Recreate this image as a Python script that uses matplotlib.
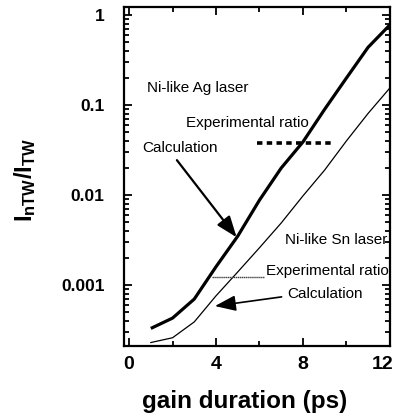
import numpy as np
import matplotlib
matplotlib.use("Agg")
import matplotlib.pyplot as plt
from matplotlib.ticker import FixedLocator, LogLocator, NullFormatter, FixedFormatter
import matplotlib.transforms as mtransforms

plt.rcParams['font.family'] = ['Liberation Sans', 'DejaVu Sans']
plt.rcParams['mathtext.fontset'] = 'custom'
plt.rcParams['mathtext.rm'] = 'Liberation Sans'
plt.rcParams['mathtext.bf'] = 'Liberation Sans:bold'

# gain duration (ps)
duration = [1, 2, 3, 4, 5, 6, 7, 8, 9, 10, 11, 12]
# ratio I_nTW / I_TW, calculation
ag_calc = [3.3e-4, 4.3e-4, 7.0e-4, 1.6e-3, 3.5e-3, 8.8e-3, 2.0e-2, 3.9e-2, 9.0e-2, 0.20, 0.44, 0.78]
sn_calc = [2.3e-4, 2.6e-4, 3.9e-4, 7.6e-4, 1.4e-3, 2.6e-3, 4.9e-3, 9.8e-3, 1.9e-2, 4.0e-2, 8.1e-2, 0.155]
# experimental ratio bands (x range, value)
ag_exp_x = [5.9, 9.3]
ag_exp = 0.038
sn_exp_x = [3.8, 6.2]
sn_exp = 0.00123

xticks = [0, 4, 8, 12]
yticks = [0.001, 0.01, 0.1, 1]
ytick_labels = ["0.001", "0.01", "0.1", "1"]

fig = plt.figure(figsize=(3.99, 4.19), dpi=100)
ax = fig.add_axes([0.311, 0.174, 0.666, 0.809])

ax.plot(duration, ag_calc, color='k', lw=2.3, solid_capstyle='butt')
ax.plot(duration, sn_calc, color='k', lw=0.9)

ax.plot(ag_exp_x, [ag_exp, ag_exp], color='k', lw=2.6, linestyle=(0, (1.5, 1.2)))
ax.plot(sn_exp_x, [sn_exp, sn_exp], color='0.25', lw=1.0, linestyle=(0, (1, 0.4)))

ax.set_yscale('log')
ax.set_xlim(-0.23, 12.0)
ax.set_ylim(2.1e-4, 1.23)

# annotations
ax.text(0.83, 0.155, "Ni-like Ag laser", fontsize=11, va='center', ha='left')
ax.text(2.6, 0.063, "Experimental ratio", fontsize=11, va='center', ha='left')
ax.text(0.6, 0.033, "Calculation", fontsize=11, va='center', ha='left')
ax.text(7.16, 0.00316, "Ni-like Sn laser", fontsize=11, va='center', ha='left')
ax.text(6.28, 0.00143, "Experimental ratio", fontsize=11, va='center', ha='left')
ax.text(7.3, 7.9e-4, "Calculation", fontsize=11, va='center', ha='left')

ax.annotate("", xy=(4.95, 0.0034), xytext=(2.2, 0.0245),
            arrowprops=dict(arrowstyle='-|>,head_length=0.8,head_width=0.3',
                            mutation_scale=16, lw=1.6, color='k',
                            shrinkA=0, shrinkB=0))
ax.annotate("", xy=(3.95, 5.85e-4), xytext=(7.02, 7.4e-4),
            arrowprops=dict(arrowstyle='-|>,head_length=0.8,head_width=0.3',
                            mutation_scale=16, lw=1.2, color='k',
                            shrinkA=0, shrinkB=0))

# ticks
ax.xaxis.set_major_locator(FixedLocator(xticks))
ax.xaxis.set_minor_locator(FixedLocator([2, 6, 10]))
ax.yaxis.set_major_locator(FixedLocator(yticks))
ax.yaxis.set_major_formatter(FixedFormatter(ytick_labels))
ax.yaxis.set_minor_locator(LogLocator(base=10, subs=np.arange(2, 10)))
ax.yaxis.set_minor_formatter(NullFormatter())

ax.tick_params(which='both', direction='in', top=True, right=True, width=1.3)
ax.tick_params(which='major', length=6)
ax.tick_params(which='minor', length=3.5)
ax.tick_params(axis='x', labelsize=14, pad=7)
ax.tick_params(axis='y', labelsize=12.5, pad=14)
for lab in ax.get_xticklabels() + ax.get_yticklabels():
    lab.set_fontweight('bold')
last = ax.get_xticklabels()[-1]
last.set_transform(last.get_transform() + mtransforms.ScaledTranslation(-0.07, 0, fig.dpi_scale_trans))

for sp in ax.spines.values():
    sp.set_linewidth(1.6)

ax.set_xlabel("gain duration (ps)", fontsize=17.5, fontweight='bold')
ax.xaxis.set_label_coords(0.455, -0.13)
ax.set_ylabel(r"$\mathbf{I_{nTW}/I_{TW}}$", fontsize=17)
ax.yaxis.set_label_coords(-0.325, 0.49)

fig.savefig("out.png", dpi=100)
